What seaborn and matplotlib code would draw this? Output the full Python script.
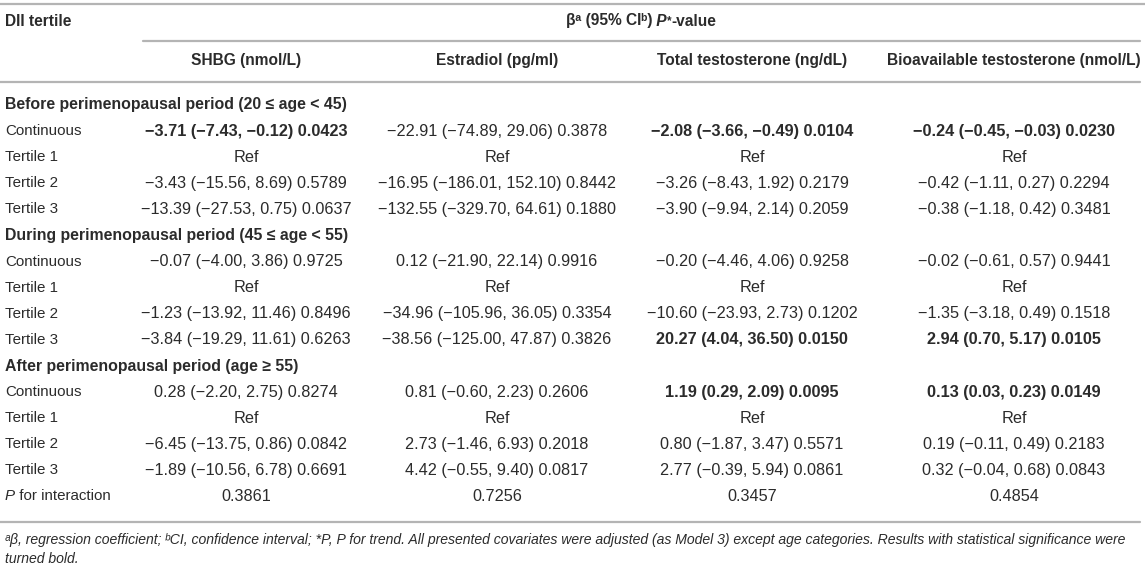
import numpy as np
import pandas as pd
import seaborn as sns
import matplotlib.pyplot as plt

sns.set_theme(style="white")
plt.rcParams['font.family'] = ['Liberation Sans', 'DejaVu Sans']

# table content
row_labels = [
    "Before perimenopausal period (20 ≤ age < 45)",
    "Continuous", "Tertile 1", "Tertile 2", "Tertile 3",
    "During perimenopausal period (45 ≤ age < 55)",
    "Continuous", "Tertile 1", "Tertile 2", "Tertile 3",
    "After perimenopausal period (age ≥ 55)",
    "Continuous", "Tertile 1", "Tertile 2", "Tertile 3",
    "P for interaction",
]
section_rows = [0, 5, 10]

col_headers = ["SHBG (nmol/L)", "Estradiol (pg/ml)",
               "Total testosterone (ng/dL)", "Bioavailable testosterone (nmol/L)"]

shbg = ["", "−3.71 (−7.43, −0.12) 0.0423", "Ref",
        "−3.43 (−15.56, 8.69) 0.5789", "−13.39 (−27.53, 0.75) 0.0637",
        "", "−0.07 (−4.00, 3.86) 0.9725", "Ref",
        "−1.23 (−13.92, 11.46) 0.8496", "−3.84 (−19.29, 11.61) 0.6263",
        "", "0.28 (−2.20, 2.75) 0.8274", "Ref",
        "−6.45 (−13.75, 0.86) 0.0842", "−1.89 (−10.56, 6.78) 0.6691",
        "0.3861"]
estradiol = ["", "−22.91 (−74.89, 29.06) 0.3878", "Ref",
             "−16.95 (−186.01, 152.10) 0.8442", "−132.55 (−329.70, 64.61) 0.1880",
             "", "0.12 (−21.90, 22.14) 0.9916", "Ref",
             "−34.96 (−105.96, 36.05) 0.3354", "−38.56 (−125.00, 47.87) 0.3826",
             "", "0.81 (−0.60, 2.23) 0.2606", "Ref",
             "2.73 (−1.46, 6.93) 0.2018", "4.42 (−0.55, 9.40) 0.0817",
             "0.7256"]
total_t = ["", "−2.08 (−3.66, −0.49) 0.0104", "Ref",
           "−3.26 (−8.43, 1.92) 0.2179", "−3.90 (−9.94, 2.14) 0.2059",
           "", "−0.20 (−4.46, 4.06) 0.9258", "Ref",
           "−10.60 (−23.93, 2.73) 0.1202", "20.27 (4.04, 36.50) 0.0150",
           "", "1.19 (0.29, 2.09) 0.0095", "Ref",
           "0.80 (−1.87, 3.47) 0.5571", "2.77 (−0.39, 5.94) 0.0861",
           "0.3457"]
bio_t = ["", "−0.24 (−0.45, −0.03) 0.0230", "Ref",
         "−0.42 (−1.11, 0.27) 0.2294", "−0.38 (−1.18, 0.42) 0.3481",
         "", "−0.02 (−0.61, 0.57) 0.9441", "Ref",
         "−1.35 (−3.18, 0.49) 0.1518", "2.94 (0.70, 5.17) 0.0105",
         "", "0.13 (0.03, 0.23) 0.0149", "Ref",
         "0.19 (−0.11, 0.49) 0.2183", "0.32 (−0.04, 0.68) 0.0843",
         "0.4854"]

# rows with statistical significance (bold)
shbg_bold = [1]
estradiol_bold = []
total_t_bold = [1, 9, 11]
bio_t_bold = [1, 9, 11]

footnote = ["ᵃβ, regression coefficient; ᵇCI, confidence interval; *P, P for trend. "
            "All presented covariates were adjusted (as Model 3) except age categories. "
            "Results with statistical significance were",
            "turned bold."]

df = pd.DataFrame({"label": row_labels, "SHBG": shbg, "Estradiol": estradiol,
                   "Total": total_t, "Bio": bio_t})
bold_map = {"SHBG": shbg_bold, "Estradiol": estradiol_bold,
            "Total": total_t_bold, "Bio": bio_t_bold}

W, H = 1145, 570
fig = plt.figure(figsize=(W / 100, H / 100), dpi=100)
ax = fig.add_axes([0, 0, 1, 1])
ax.set_xlim(0, W)
ax.set_ylim(H, 0)
ax.axis("off")

txt = "#2b2b2b"
line_c = "#b4b4b4"
fs_num = 11.7     # table cells
fs_lab = 10.9     # row labels
fs_head = 11.2    # column headers
fs_sec = 11.4     # section headings
col_x = [246, 497, 752, 1014]


def draw_runs(x, y, runs, center=True):
    renderer = fig.canvas.get_renderer()
    items = []
    pos = x
    for s, kw in runs:
        t = ax.text(pos, y, s, ha="left", va="center", color=txt, **kw)
        bb = t.get_window_extent(renderer)
        items.append(t)
        pos += bb.width
    if center:
        shift = (pos - x) / 2
        for t in items:
            t.set_x(t.get_position()[0] - shift)


# rules
ax.plot([0, W], [4, 4], color=line_c, lw=1.6)
ax.plot([143, 1140], [41, 41], color=line_c, lw=1.6)
ax.plot([0, 1140], [82, 82], color=line_c, lw=1.6)
ax.plot([0, 1140], [522, 522], color=line_c, lw=1.6)

# header
ax.text(5, 21, "DII tertile", fontsize=fs_head, fontweight="bold", color=txt, va="center")
draw_runs(641, 21, [
    ("βᵃ (95% CIᵇ)", dict(fontsize=fs_head, fontweight="bold")),
    (" P", dict(fontsize=fs_head, fontweight="bold", fontstyle="italic")),
    ("*", dict(fontsize=fs_head * 0.75, fontweight="bold")),
    ("-value", dict(fontsize=fs_head, fontweight="bold")),
])
for cx, h in zip(col_x, col_headers):
    ax.text(cx, 61, h, fontsize=fs_head, fontweight="bold", color=txt, ha="center", va="center")

# body
y0, dy = 105, 26.1
cols = ["SHBG", "Estradiol", "Total", "Bio"]
for i, row in df.iterrows():
    y = y0 + i * dy
    if i in section_rows:
        ax.text(5, y, row["label"], fontsize=fs_sec, fontweight="bold", color=txt, va="center")
        continue
    if row["label"].startswith("P for"):
        draw_runs(5, y, [("P", dict(fontsize=fs_lab, fontstyle="italic")),
                         (" for interaction", dict(fontsize=fs_lab))], center=False)
    else:
        ax.text(5, y, row["label"], fontsize=fs_lab, color=txt, va="center")
    for cx, c in zip(col_x, cols):
        w = "bold" if i in bold_map[c] else "normal"
        ax.text(cx, y, row[c], fontsize=fs_num, fontweight=w, color=txt, ha="center", va="center")

# footnote
ax.text(5, 540, footnote[0], fontsize=10.12, fontstyle="italic", color=txt, va="center")
ax.text(5, 559, footnote[1], fontsize=10.12, fontstyle="italic", color=txt, va="center")

fig.savefig("out.png", dpi=100, facecolor="white")
